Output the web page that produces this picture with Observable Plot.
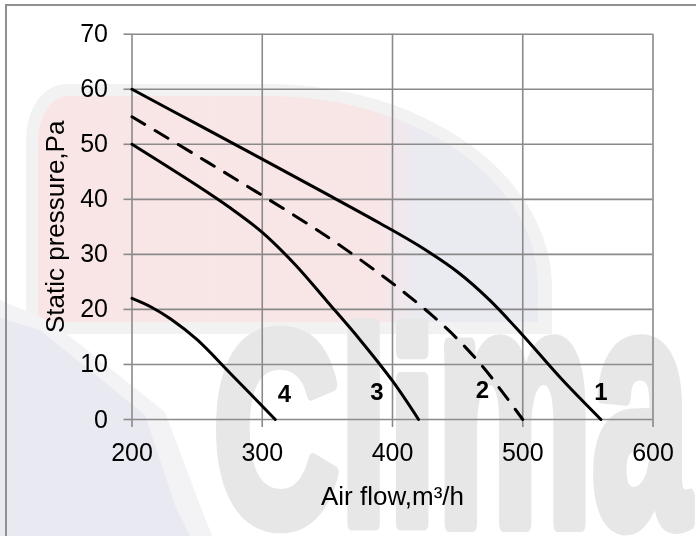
<!DOCTYPE html>
<html>
<head>
<meta charset="utf-8">
<script src="https://cdn.jsdelivr.net/npm/d3@7"></script>
<script src="https://cdn.jsdelivr.net/npm/@observablehq/plot@0.6"></script>
<style>
  html, body { margin: 0; padding: 0; background: #fff; }
  #wrap { position: relative; width: 696px; height: 536px; overflow: hidden; background: #fff; font-family: "Liberation Sans", Arial, sans-serif; }
  .wm { position: absolute; pointer-events: none; }
  #ring { left: 26px; top: 84px; width: 526px; height: 250px; background: #f2f2f2;
          border-radius: 40px 284px 0 0 / 55px 204px 0 0; }
  #dome { left: 38px; top: 96px; width: 500px; height: 226px;
          background: linear-gradient(90deg, #f9e5e5 0%, #f8e6e7 68%, #eaeaf1 76%, #eaeaf1 100%);
          border-radius: 30px 270px 0 0 / 45px 190px 0 0; }
  #lavband { left: 0; top: 300px; width: 240px; height: 236px; background: #f3f3f5;
         clip-path: polygon(0 0, 52px 22px, 165px 112px, 200px 205px, 212px 236px, 0 236px); }
  #lav { left: 0; top: 318px; width: 220px; height: 218px; background: #e9e9f1;
         clip-path: polygon(0 0, 40px 12px, 145px 97px, 175px 187px, 190px 218px, 0 218px); }
  #wmcanvas { left: 0; top: 0; }
  #border { left: 5px; top: 4px; width: 800px; height: 800px; border-left: 2px solid #909090; border-top: 2px solid #909090; }
  #chart { position: absolute; left: 0; top: 0; }
</style>
</head>
<body>
<div id="wrap">
  <div class="wm" id="ring"></div>
  <div class="wm" id="dome"></div>
  <div class="wm" id="lavband"></div>
  <div class="wm" id="lav"></div>
  <canvas class="wm" id="wmcanvas" width="696" height="536"></canvas>
  <div class="wm" id="border"></div>
  <div id="chart"></div>
</div>
<script>
// Tick values
const xTicks = [200, 300, 400, 500, 600];
const yTicks = [0, 10, 20, 30, 40, 50, 60, 70];

// Curve names (labels drawn next to the end of each curve)
const curveNames = ["1", "2", "3", "4"];

// Curve 1 (solid)
const airflow1  = [200, 250, 300, 350, 390, 420, 450, 475, 500, 530, 560];
const pressure1 = [60, 53.65, 47.3, 40.9, 35.7, 31.6, 26.8, 21.6, 15.3, 7.3, 0];
// Curve 2 (dashed)
const airflow2  = [200, 250, 300, 350, 390, 410, 430, 450, 470, 485, 500];
const pressure2 = [55, 47.9, 40.7, 33.2, 26.5, 22.9, 19.0, 14.6, 9.4, 4.8, 0];
// Curve 3 (solid)
const airflow3  = [200, 250, 275, 300, 325, 350, 375, 400, 420];
const pressure3 = [50, 42.5, 38.5, 34.0, 28.2, 21.4, 14.5, 7.0, 0];
// Curve 4 (solid)
const airflow4  = [200, 215, 230, 250, 275, 310];
const pressure4 = [22, 20.4, 18.2, 14.5, 8.5, 0];

// Curve label positions (data units)
const labelAirflow  = [560, 469, 388, 317];
const labelPressure = [5, 5.3, 5, 4.5];

// Background watermark (logo letters, drawn as pixels like the reference image)
const watermarkWord = "Climar";

const series = [[airflow1, pressure1], [airflow2, pressure2], [airflow3, pressure3], [airflow4, pressure4]];
const rows = [];
series.forEach(([xs, ys], i) => xs.forEach((x, j) => rows.push({curve: curveNames[i], x, y: ys[j]})));
const solidRows = rows.filter(d => d.curve !== "2");
const dashedRows = rows.filter(d => d.curve === "2");
const labels = curveNames.map((name, i) => ({name, x: labelAirflow[i], y: labelPressure[i]}));

// watermark letters on canvas
(function () {
  const ctx = document.getElementById("wmcanvas").getContext("2d");
  ctx.font = "bold 250px 'Liberation Sans', Arial, sans-serif";
  ctx.fillStyle = "#e7e7e7";
  ctx.strokeStyle = "#e7e7e7";
  ctx.lineJoin = "round";
  ctx.lineWidth = 12;
  const sx = 0.7;
  let x = 213;
  for (const ch of watermarkWord) {
    const tall = ch === "C" || ch === "l" || ch === "i";
    ctx.save();
    ctx.translate(x, 524);
    ctx.scale(sx, tall ? 1.1 : 1.35);
    ctx.fillText(ch, 0, 0);
    ctx.strokeText(ch, 0, 0);
    ctx.restore();
    x += ctx.measureText(ch).width * sx;
  }
})();

const font = "Liberation Sans, Arial, sans-serif";
const chart = Plot.plot({
  width: 696,
  height: 536,
  marginLeft: 131.5,
  marginRight: 43.5,
  marginTop: 33.7,
  marginBottom: 117,
  style: {background: "transparent", fontFamily: font, fontSize: "25px", color: "#000", overflow: "visible"},
  x: {domain: [200, 600]},
  y: {domain: [0, 70]},
  marks: [
    Plot.gridX(xTicks, {stroke: "#8a8a8a", strokeOpacity: 1, strokeWidth: 1.6}),
    Plot.gridY(yTicks, {stroke: "#8a8a8a", strokeOpacity: 1, strokeWidth: 1.6}),
    Plot.axisX(xTicks, {tickSize: 8, tickPadding: 16, stroke: "#8a8a8a", strokeWidth: 1.6, fill: "#000",
      fontSize: 25, tickFormat: d => String(d), label: null}),
    Plot.axisX({ticks: [], tickSize: 0, fill: "#000", fontSize: 26,
      label: "Air flow,m³/h", labelAnchor: "center", labelOffset: 85, labelArrow: "none"}),
    Plot.axisY(yTicks, {tickSize: 8, tickPadding: 16, stroke: "#8a8a8a", strokeWidth: 1.6, fill: "#000",
      fontSize: 25, tickFormat: d => String(d), label: null}),
    Plot.axisY({ticks: [], tickSize: 0, fill: "#000", fontSize: 26,
      label: "Static pressure,Pa", labelAnchor: "center", labelOffset: 86, labelArrow: "none"}),
    Plot.line(solidRows, {x: "x", y: "y", z: "curve", stroke: "#000", strokeWidth: 3, curve: "catmull-rom"}),
    Plot.line(dashedRows, {x: "x", y: "y", stroke: "#000", strokeWidth: 3, strokeDasharray: "15,12", curve: "catmull-rom"}),
    Plot.text(labels, {x: "x", y: "y", text: "name", fontWeight: "bold", fontSize: 24, fill: "#000", fontFamily: font})
  ]
});
document.getElementById("chart").appendChild(chart);
</script>
</body>
</html>
